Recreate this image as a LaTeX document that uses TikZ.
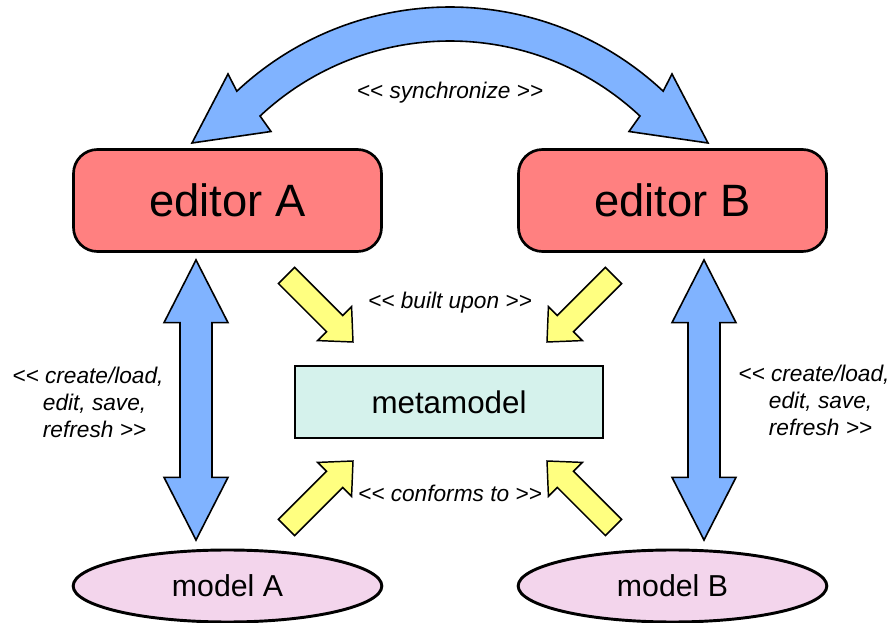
\documentclass[tikz,border=0pt]{standalone}
\usepackage{fontspec}
\newfontfamily\diagfont{Liberation Sans}
\usetikzlibrary{calc,shapes.geometric}

\definecolor{edred}{HTML}{FF8080}
\definecolor{metacyan}{HTML}{D5F2EC}
\definecolor{modelpink}{HTML}{F3D5EC}
\definecolor{arrowblue}{HTML}{80B3FF}
\definecolor{arrowyellow}{HTML}{FFFF80}

% straight block arrow with one head: style, tail, tip
\newcommand\SingleBlock[3]{%
  \coordinate (hbase) at ($(#3)!19.5pt!(#2)$);
  \draw[#1] ($(#2)!8.6pt!90:(#3)$) -- ($(hbase)!8.6pt!90:(#3)$)
    -- ($(hbase)!18pt!90:(#3)$) -- (#3) -- ($(hbase)!18pt!-90:(#3)$)
    -- ($(hbase)!8.6pt!-90:(#3)$) -- ($(#2)!8.6pt!-90:(#3)$) -- cycle;}

% straight block arrow with two heads: style, first tip, second tip
\newcommand\DoubleBlock[3]{%
  \coordinate (ha) at ($(#2)!47pt!(#3)$);
  \coordinate (hb) at ($(#3)!47pt!(#2)$);
  \draw[#1] (#2) -- ($(ha)!24pt!90:(#3)$) -- ($(ha)!12pt!90:(#3)$)
    -- ($(hb)!12pt!-90:(#2)$) -- ($(hb)!24pt!-90:(#2)$) -- (#3)
    -- ($(hb)!24pt!90:(#2)$) -- ($(hb)!12pt!90:(#2)$)
    -- ($(ha)!12pt!-90:(#3)$) -- ($(ha)!24pt!-90:(#3)$) -- cycle;}

\begin{document}
\begin{tikzpicture}[x=0.75pt,y=-0.75pt,
  editorbox/.style={draw, line width=2pt, fill=edred, rounded corners=18pt,
    minimum width=231pt, minimum height=76.5pt, inner sep=0pt,
    font={\diagfont\fontsize{34}{40}\selectfont}},
  metabox/.style={draw, line width=2.2pt, fill=metacyan,
    minimum width=231pt, minimum height=54pt, inner sep=0pt,
    font={\diagfont\fontsize{23.5}{28}\selectfont}},
  modelell/.style={ellipse, draw, line width=2.2pt, fill=modelpink,
    minimum width=231.5pt, minimum height=54pt, inner sep=0pt,
    font={\diagfont\fontsize{22.7}{27}\selectfont}},
  lbl/.style={inner sep=0pt, text=black,
    font={\diagfont\itshape\fontsize{17}{20.25}\selectfont}},
  bluearrow/.style={draw=black, line width=1.2pt, fill=arrowblue, line join=miter},
  yellowarrow/.style={draw=black, line width=1.1pt, fill=arrowyellow, line join=miter}]

\useasboundingbox (0,0) rectangle (893,623);

% main elements
\node[editorbox] (edA) at (227.5,200.5) {editor A};
\node[editorbox] (edB) at (672.5,200.5) {editor B};
\node[metabox] (meta) at (449,402) {metamodel};
\node[modelell] (mA) at (227.5,586) {model A};
\node[modelell] (mB) at (672.5,586) {model B};

% curved synchronisation arrow between the editors
\coordinate (sc) at (450,319);
\draw[bluearrow] ($(sc)+(-133.1:312)$) arc[start angle=-133.1, end angle=-46.9, radius=312]
  -- (672,74) -- (708,143) -- (629,131.5) -- ($(sc)+(-46.9:278)$)
  arc[start angle=-46.9, end angle=-133.1, radius=278]
  -- (271,131.5) -- (192,143) -- (228,74) -- cycle;

% editor <-> model arrows
\coordinate (vA1) at (196,260);
\coordinate (vA2) at (196,540);
\coordinate (vB1) at (704,260);
\coordinate (vB2) at (704,540);
\DoubleBlock{bluearrow}{vA1}{vA2}
\DoubleBlock{bluearrow}{vB1}{vB2}

% arrows towards the metamodel
\coordinate (tl0) at (286.5,275.5); \coordinate (tl1) at (353,342);
\coordinate (tr0) at (613.5,275.5); \coordinate (tr1) at (547,342);
\coordinate (bl0) at (286.5,527.5); \coordinate (bl1) at (353,461);
\coordinate (br0) at (613.5,527.5); \coordinate (br1) at (547,461);
\SingleBlock{yellowarrow}{tl0}{tl1}
\SingleBlock{yellowarrow}{tr0}{tr1}
\SingleBlock{yellowarrow}{bl0}{bl1}
\SingleBlock{yellowarrow}{br0}{br1}

% labels
\node[lbl] (lsync) at (450,93) {<< synchronize >>};
\node[lbl] (lbuilt) at (450,303) {<< built upon >>};
\node[lbl] (lconf) at (450,493) {<< conforms to >>};
\node[lbl, align=left, anchor=west] (lcrudA) at (12,402)
  {<< create/load,\\\hspace*{23pt}edit, save,\\\hspace*{23pt}refresh >>};
\node[lbl, align=left, anchor=west] (lcrudB) at (738,400)
  {<< create/load,\\\hspace*{23pt}edit, save,\\\hspace*{23pt}refresh >>};
\end{tikzpicture}
\end{document}
